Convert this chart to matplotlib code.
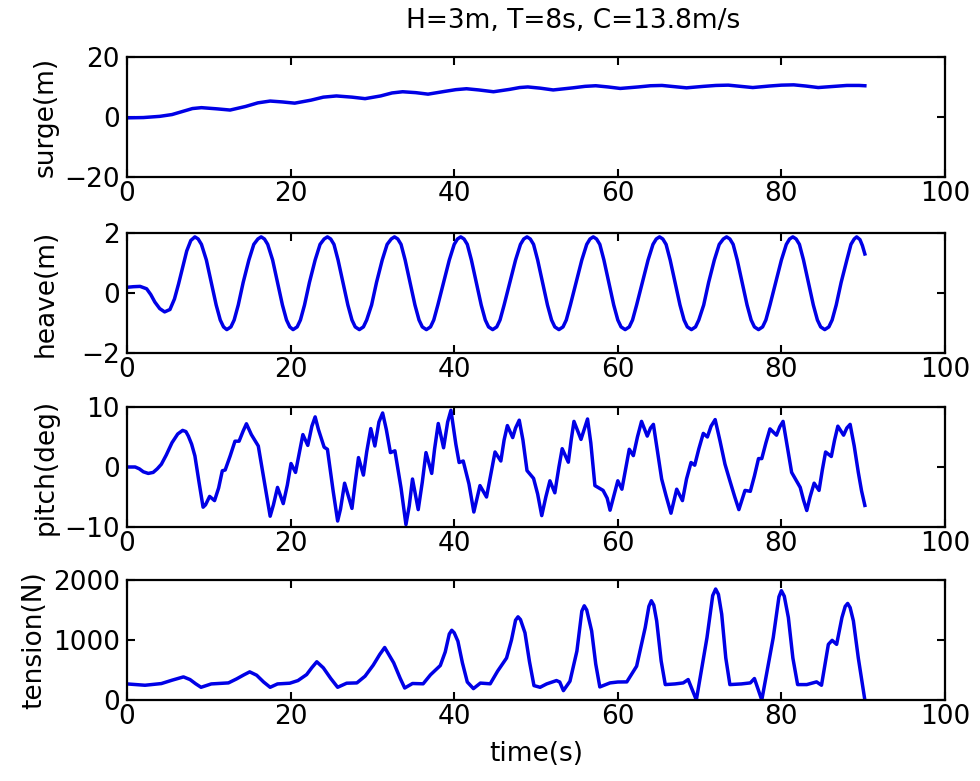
import matplotlib
matplotlib.use("Agg")
import matplotlib.pyplot as plt

# ---- data ----
surge_t = [0, 2, 4, 5.5, 7, 8, 9.1, 11, 12.6, 14.5, 16, 17.5, 19, 20.5, 22.5, 24, 25.6, 27.5,
           29.1, 31, 32.4, 33.7, 35.3, 36.8, 38.8, 40.2, 41.5, 43, 44.8, 46.8, 48, 49,
           50.5, 52.1, 54.5, 56, 57.3, 58.8, 60.3, 62.5, 64, 65.4, 66.9, 68.4, 70.5, 72,
           73.5, 75, 76.5, 78.5, 80, 81.5, 83, 84.5, 86.5, 88, 89.5, 90.2]
surge_v = [-0.3, -0.2, 0.2, 0.8, 2.0, 2.8, 3.1, 2.7, 2.3, 3.5, 4.7, 5.3, 5.0, 4.6, 5.6, 6.6, 7.0, 6.6,
           6.1, 7.0, 8.0, 8.4, 8.1, 7.6, 8.5, 9.1, 9.4, 9.0, 8.4, 9.2, 9.8, 10.0,
           9.6, 9.0, 9.7, 10.2, 10.4, 10.0, 9.5, 10.0, 10.4, 10.5, 10.1, 9.7, 10.2, 10.5,
           10.6, 10.2, 9.8, 10.3, 10.6, 10.7, 10.3, 9.8, 10.2, 10.5, 10.5, 10.4]

heave_t = [0, 0.8, 1.6, 2.4, 2.9, 3.4, 4.0, 4.6, 5.25, 5.8, 6.3, 6.8, 7.3, 7.8, 8.3,
           8.7, 9.1, 9.7, 10.3, 10.9, 11.4, 11.8, 12.2, 12.7, 13.1, 13.6, 14.2, 14.9, 15.5, 16.0, 16.4,
           16.8, 17.2, 17.8, 18.4, 19.0, 19.5, 19.9, 20.3, 20.8, 21.2, 21.7, 22.3, 23.0, 23.6, 24.1, 24.5,
           24.9, 25.3, 25.8, 26.4, 27.0, 27.5, 27.9, 28.4, 28.9, 29.3, 29.9, 30.5, 31.2, 31.8, 32.3, 32.7,
           33.1, 33.5, 34.0, 34.6, 35.2, 35.7, 36.1, 36.6, 37.1, 37.5, 38.0, 38.7, 39.4, 40.0, 40.4, 40.8,
           41.2, 41.6, 42.1, 42.7, 43.3, 43.8, 44.2, 44.7, 45.2, 45.6, 46.1, 46.8, 47.5, 48.1, 48.5, 48.9,
           49.3, 49.7, 50.2, 50.8, 51.4, 51.9, 52.3, 52.8, 53.3, 53.7, 54.2, 54.9, 55.6, 56.2, 56.6, 57.0,
           57.4, 57.8, 58.3, 58.9, 59.5, 60.0, 60.4, 60.9, 61.4, 61.8, 62.3, 63.0, 63.7, 64.3, 64.7, 65.1,
           65.5, 65.9, 66.4, 67.0, 67.6, 68.1, 68.5, 69.0, 69.5, 69.9, 70.5, 71.1, 71.8, 72.4, 72.9, 73.3,
           73.7, 74.1, 74.6, 75.2, 75.8, 76.3, 76.7, 77.2, 77.7, 78.1, 78.6, 79.3, 80.0, 80.6, 81.0, 81.4,
           81.8, 82.2, 82.7, 83.3, 83.9, 84.4, 84.8, 85.3, 85.8, 86.2, 86.7, 87.3, 88.0, 88.5, 88.9, 89.2,
           89.6, 89.9, 90.2]
heave_v = [0.19, 0.21, 0.22, 0.14, -0.05, -0.30, -0.52, -0.63, -0.55, -0.20, 0.30, 0.85, 1.40, 1.75, 1.87,
           1.80, 1.62, 1.10, 0.35, -0.40, -0.90, -1.13, -1.22, -1.13, -0.90, -0.40, 0.35, 1.10, 1.62, 1.80, 1.87,
           1.80, 1.62, 1.10, 0.35, -0.40, -0.90, -1.13, -1.22, -1.13, -0.90, -0.40, 0.35, 1.10, 1.62, 1.80, 1.87,
           1.80, 1.62, 1.10, 0.35, -0.40, -0.90, -1.13, -1.22, -1.13, -0.90, -0.40, 0.35, 1.10, 1.62, 1.80, 1.87,
           1.80, 1.62, 1.10, 0.35, -0.40, -0.90, -1.13, -1.22, -1.13, -0.90, -0.40, 0.35, 1.10, 1.62, 1.80, 1.87,
           1.80, 1.62, 1.10, 0.35, -0.40, -0.90, -1.13, -1.22, -1.13, -0.90, -0.40, 0.35, 1.10, 1.62, 1.80, 1.87,
           1.80, 1.62, 1.10, 0.35, -0.40, -0.90, -1.13, -1.22, -1.13, -0.90, -0.40, 0.35, 1.10, 1.62, 1.80, 1.87,
           1.80, 1.62, 1.10, 0.35, -0.40, -0.90, -1.13, -1.22, -1.13, -0.90, -0.40, 0.35, 1.10, 1.62, 1.80, 1.87,
           1.80, 1.62, 1.10, 0.35, -0.40, -0.90, -1.13, -1.22, -1.13, -0.90, -0.40, 0.35, 1.10, 1.62, 1.80, 1.87,
           1.80, 1.62, 1.10, 0.35, -0.40, -0.90, -1.13, -1.22, -1.13, -0.90, -0.40, 0.35, 1.10, 1.62, 1.80, 1.87,
           1.80, 1.62, 1.10, 0.35, -0.40, -0.90, -1.13, -1.22, -1.13, -0.90, -0.40, 0.35, 1.10, 1.62, 1.80, 1.87,
           1.78, 1.58, 1.30]

pitch_t = [0, 1.0, 1.5, 2.0, 2.6, 3.2, 3.7, 4.2, 4.8, 5.5, 6.2, 6.8, 7.2, 7.5, 7.9, 8.3, 8.8, 9.3,
           9.6, 10.1, 10.7, 11.2, 11.65, 12.0, 12.6, 13.2, 13.7, 14.2, 14.6, 15.2, 16.05, 16.8,
           17.5, 17.9, 18.4, 19.1, 19.6, 20.05, 20.6, 21.5, 22.1, 22.6, 23.0, 23.4, 24.1, 24.5,
           25.2, 25.75, 26.1, 26.6, 27.5, 27.9, 28.3, 28.9, 29.3, 29.8, 30.3, 30.8, 31.25, 31.7,
           32.2, 32.75, 33.5, 34.1, 34.5, 34.9, 35.6, 36.1, 36.55, 37.25, 37.6, 38.05, 38.7, 39.2,
           39.6, 40.2, 40.6, 41.1, 41.8, 42.4, 43.15, 43.95, 44.5, 44.99, 45.7, 46.1, 46.5, 47.15,
           47.5, 47.95, 48.4, 48.9, 49.7, 50.2, 50.7, 51.2, 51.7, 52.3, 52.8, 53.2, 53.95, 54.3,
           54.64, 55.5, 55.9, 56.3, 56.7, 57.2, 58.2, 58.7, 59.05, 60.0, 60.5, 61.0, 61.4, 61.9,
           62.4, 62.9, 63.6, 64.0, 64.35, 64.8, 65.36, 65.9, 66.5, 67.2, 67.9, 68.4, 68.95, 69.4,
           69.9, 70.45, 70.95, 71.4, 71.9, 72.5, 73.1, 73.7, 74.3, 74.8, 75.55, 76.2, 76.7, 77.2,
           77.6, 78.1, 78.6, 79.4, 79.8, 80.2, 80.7, 81.25, 82.3, 82.7, 83.1, 83.5, 84.0, 84.6,
           85.0, 85.4, 86.1, 86.5, 86.9, 87.6, 88.0, 88.4, 88.9, 89.4, 89.8, 90.2]
pitch_v = [0.0, 0.0, -0.3, -0.8, -1.07, -0.9, -0.3, 0.46, 2.0, 4.05, 5.5, 6.1, 5.9, 5.15, 3.8, 1.85, -2.5, -6.7,
           -6.3, -4.9, -5.6, -3.5, -0.63, -0.5, 1.8, 4.3, 4.3, 6.0, 7.2, 5.4, 3.5, -2.5,
           -8.2, -6.3, -3.4, -6.1, -3.0, 0.58, -0.9, 5.4, 3.6, 6.8, 8.35, 6.25, 3.3, 2.95,
           -4.0, -9.0, -7.0, -2.7, -6.9, -2.5, 1.57, -1.35, 2.5, 6.4, 3.5, 7.5, 9.0, 6.25,
           2.4, 2.7, -3.5, -9.6, -6.5, -2.0, -7.1, -2.5, 2.4, -1.07, 3.0, 7.25, 3.2, 7.5,
           9.45, 3.8, 0.75, 1.0, -2.8, -7.5, -3.1, -5.0, -1.0, 2.5, 1.0, 4.5, 6.9, 4.9,
           6.5, 7.8, 4.5, -0.6, -1.9, -4.5, -8.1, -5.0, -2.3, -4.3, 0.0, 3.05, 0.8, 4.5,
           7.6, 4.6, 6.3, 8.0, 4.0, -3.1, -3.9, -5.2, -7.2, -2.3, -3.7, 0.0, 2.95, 1.9,
           5.0, 7.6, 5.15, 6.5, 7.1, 3.0, -2.0, -4.8, -7.7, -3.7, -5.6, -2.0, 0.75, 0.3,
           3.0, 5.6, 5.0, 6.8, 7.9, 4.3, 0.47, -2.3, -5.0, -7.1, -3.9, -4.05, -1.5, 1.4,
           1.4, 4.0, 6.35, 5.3, 6.7, 7.6, 3.5, -0.9, -3.4, -5.5, -7.25, -5.0, -2.7, -3.9,
           -0.5, 2.5, 1.75, 4.5, 6.8, 5.3, 6.5, 7.1, 3.5, -0.9, -4.0, -6.4]

tension_t = [0, 1.0, 2.2, 4.2, 5.5, 6.9, 7.7, 8.4, 9.05, 10.3, 12.4, 13.4, 14.3, 15.0, 15.85, 16.7,
             17.5, 18.4, 19.9, 20.9, 21.96, 22.6, 23.2, 24.0, 24.9, 25.75, 26.85, 28.1, 29.1,
             30.1, 30.9, 31.5, 32.6, 33.4, 33.95, 34.9, 36.2, 37.1, 38.3, 38.9, 39.4, 39.7, 40.0,
             40.45, 41.0, 41.6, 42.35, 43.2, 44.4, 45.3, 46.4, 47.0, 47.5, 47.8, 48.1, 48.65,
             49.2, 49.75, 50.5, 51.3, 52.5, 52.9, 53.35, 54.15, 55.0, 55.6, 55.9, 56.2, 56.8,
             57.3, 57.8, 59.05, 60.0, 61.1, 62.3, 63.35, 63.8, 64.1, 64.4, 64.75, 65.3, 65.8,
             67.0, 68.0, 68.6, 69.6, 70.3, 70.9, 71.6, 71.96, 72.3, 72.7, 73.2, 73.7, 75.1,
             76.2, 76.7, 77.6, 78.3, 79.0, 79.7, 80.0, 80.35, 80.85, 81.4, 81.98, 83.1, 84.3,
             84.9, 85.74, 86.2, 86.75, 87.4, 87.8, 88.1, 88.4, 88.8, 89.4, 90.2]
tension_v = [268, 258, 246, 274, 330, 385, 341, 270, 212, 268, 285, 352, 420, 469, 413, 300,
             212, 268, 280, 324, 424, 540, 637, 536, 360, 212, 280, 285, 397,
             581, 760, 875, 620, 360, 200, 275, 270, 420, 575, 800, 1100, 1162, 1120,
             980, 620, 300, 190, 282, 270, 480, 700, 1000, 1330, 1386, 1340, 1120,
             640, 240, 212, 268, 324, 300, 156, 313, 816, 1480, 1570, 1500, 1151,
             600, 218, 285, 300, 302, 564, 1207, 1560, 1654, 1580, 1318, 650, 257,
             268, 285, 341, 0, 560, 1039, 1740, 1849, 1760, 1430, 700, 257, 268,
             285, 358, 0, 520, 1039, 1720, 1821, 1730, 1374, 700, 257, 257, 302,
             246, 927, 994, 927, 1374, 1560, 1609, 1540, 1318, 700, 0]

panels = [
    (surge_t, surge_v, "surge(m)", (-20, 20), [-20, 0, 20], -0.083),
    (heave_t, heave_v, "heave(m)", (-2, 2), [-2, 0, 2], -0.083),
    (pitch_t, pitch_v, "pitch(deg)", (-10, 10), [-10, 0, 10], -0.083),
    (tension_t, tension_v, "tension(N)", (0, 2000), [0, 1000, 2000], -0.098),
]
bottoms = [0.7734, 0.548, 0.3252, 0.1037]

fig = plt.figure(figsize=(9.8, 7.81), dpi=100)
axes = []
for (t, v, lab, lim, yt, lx), b in zip(panels, bottoms):
    ax = fig.add_axes([0.1296, b, 0.8347, 0.1537])
    ax.plot(t, v, color="#0000e6", lw=2.5, solid_joinstyle="round")
    ax.set_xlim(0, 100)
    ax.set_ylim(*lim)
    ax.set_xticks([0, 20, 40, 60, 80, 100])
    ax.set_yticks(yt)
    ax.tick_params(direction="in", length=6, width=1.5, labelsize=19,
                   top=True, right=True, pad=3)
    ax.tick_params(axis="y", pad=5)
    for s in ax.spines.values():
        s.set_linewidth(1.6)
    ax.set_ylabel(lab, fontsize=19)
    ax.yaxis.set_label_coords(lx, 0.5)
    axes.append(ax)

axes[-1].set_xlabel("time(s)", fontsize=19, labelpad=8)
fig.text(0.585, 0.973, "H=3m, T=8s, C=13.8m/s", ha="center", va="center", fontsize=19)

fig.savefig("out.png", dpi=100)
